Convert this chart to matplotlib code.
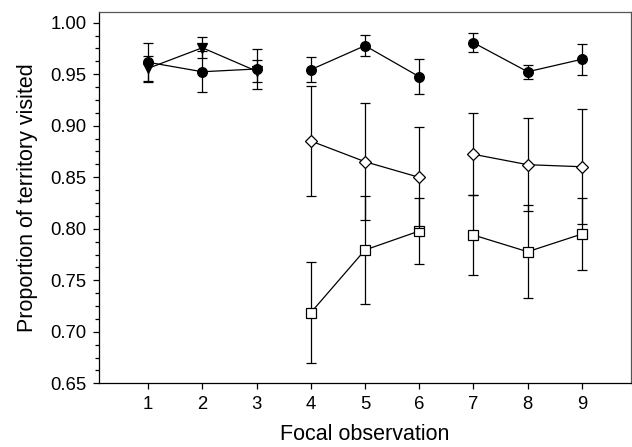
import matplotlib.pyplot as plt
import numpy as np
from matplotlib.ticker import MultipleLocator, FormatStrFormatter

plt.rcParams['font.family'] = ['Liberation Sans', 'DejaVu Sans']

# focal observations, grouped into the three connected blocks
x_obs = [1, 2, 3, 4, 5, 6, 7, 8, 9]
blocks = [[1, 2, 3], [4, 5, 6], [7, 8, 9]]

circ_mean = [0.9616, 0.9524, 0.9551, 0.9544, 0.9777, 0.9476, 0.9806, 0.9524, 0.9645]
circ_err = [0.019, 0.020, 0.019, 0.012, 0.010, 0.017, 0.009, 0.007, 0.015]

tri_x = [1, 2, 3]
tri_mean = [0.9557, 0.9757, 0.9530]
tri_err = [0.012, 0.010, 0.011]

diam_x = [4, 5, 6, 7, 8, 9]
diam_mean = [0.8852, 0.8651, 0.8499, 0.8723, 0.8622, 0.8602]
diam_err = [0.053, 0.057, 0.049, 0.040, 0.045, 0.056]

sq_x = [4, 5, 6, 7, 8, 9]
sq_mean = [0.7185, 0.7794, 0.7978, 0.7939, 0.7777, 0.7949]
sq_err = [0.049, 0.052, 0.032, 0.039, 0.045, 0.035]


def draw_series(ax, xs, ys, es, marker, face, ms, z):
    xs = np.array(xs)
    ys = np.array(ys)
    es = np.array(es)
    ax.errorbar(xs, ys, yerr=es, fmt='none', ecolor='black', elinewidth=0.9,
                capsize=3.5, capthick=0.9, zorder=z)
    for b in blocks:
        m = np.isin(xs, b)
        if m.sum() == 0:
            continue
        ax.plot(xs[m], ys[m], color='black', lw=0.9, marker=marker, ms=ms,
                mfc=face, mec='black', mew=0.9, zorder=z + 0.5)


fig = plt.figure(figsize=(6.32, 4.47), dpi=100)
ax = fig.add_axes([99.3 / 632, 1 - 383.3 / 447, (630.7 - 99.3) / 632, (383.3 - 12) / 447])

draw_series(ax, sq_x, sq_mean, sq_err, 's', 'white', 6.5, 2)
draw_series(ax, diam_x, diam_mean, diam_err, 'D', 'white', 6.5, 3)
draw_series(ax, tri_x, tri_mean, tri_err, 'v', 'black', 7.5, 4)
draw_series(ax, x_obs, circ_mean, circ_err, 'o', 'black', 7, 5)

ax.set_xlim(0.1, 9.9)
ax.set_ylim(0.65, 1.0104)
ax.set_xticks(x_obs)
ax.yaxis.set_major_locator(MultipleLocator(0.05))
ax.yaxis.set_minor_locator(MultipleLocator(0.0125))
ax.yaxis.set_major_formatter(FormatStrFormatter('%.2f'))
ax.tick_params(axis='both', which='major', direction='out', length=4.3, width=0.9,
               labelsize=13.3, pad=5)
ax.tick_params(axis='y', which='minor', direction='out', length=2.7, width=0.9)
for s in ax.spines.values():
    s.set_linewidth(0.9)
for s in ['top', 'right']:
    ax.spines[s].set_color('#555555')

ax.set_xlabel('Focal observation', fontsize=15.5, labelpad=8)
ax.set_ylabel('Proportion of territory visited', fontsize=15.5, labelpad=9)

fig.savefig('out.png', dpi=100)
